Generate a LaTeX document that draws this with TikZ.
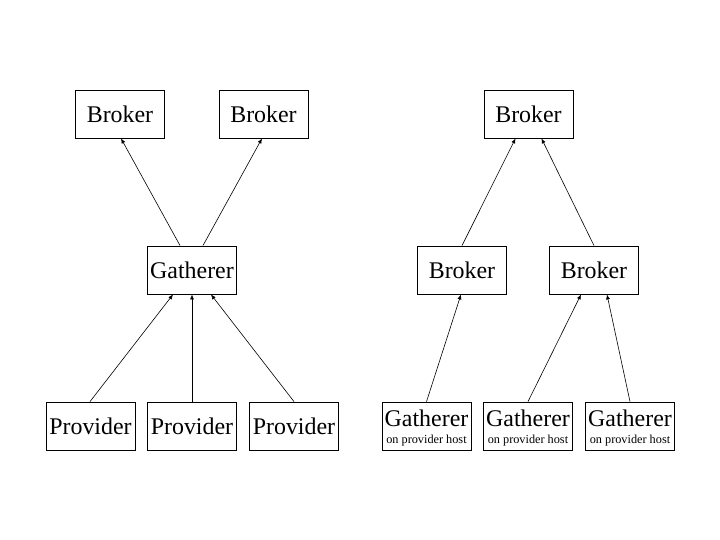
\documentclass[tikz,border=0pt]{standalone}
\usepackage{fontspec}
\setmainfont{Liberation Serif}
\usetikzlibrary{arrows.meta}
\newcommand{\gathtext}{\rule{0pt}{20.5bp}Gatherer\\{\fontsize{12.3}{17.5}\selectfont on provider host}}
\begin{document}
\begin{tikzpicture}[x=1bp,y=-1bp,
  box/.style={draw,line width=0.8bp,minimum width=89bp,minimum height=48bp,inner sep=0pt,
    font=\fontsize{24}{17}\selectfont,align=center},
  conn/.style={draw,line width=0.6bp,-{Latex[length=5bp,width=4bp]}}]
\useasboundingbox (0,0) rectangle (720,540);
% left tree
\node[box] (b1) at (120,114) {Broker};
\node[box] (b2) at (263.5,114) {Broker};
\node[box] (g) at (192,270) {Gatherer};
\node[box] (p1) at (90.5,426) {Provider};
\node[box] (p2) at (192,426) {Provider};
\node[box] (p3) at (294,426) {Provider};
% right tree
\node[box] (rb) at (528.5,114) {Broker};
\node[box] (rb1) at (462,270) {Broker};
\node[box] (rb2) at (594,270) {Broker};
\node[box] (rg1) at (426.5,426) {\gathtext};
\node[box] (rg2) at (528,426) {\gathtext};
\node[box] (rg3) at (630,426) {\gathtext};
% connectors left
\draw[conn] ([xshift=-12]g.north) -- ([xshift=1]b1.south);
\draw[conn] ([xshift=11]g.north) -- ([xshift=-1.5]b2.south);
\draw[conn] ([xshift=-0.5]p1.north) -- ([xshift=-19]g.south);
\draw[conn] (p2.north) -- (g.south);
\draw[conn] (p3.north) -- ([xshift=19]g.south);
% connectors right
\draw[conn] (rb1.north) -- ([xshift=-13]rb.south);
\draw[conn] (rb2.north) -- ([xshift=13]rb.south);
\draw[conn] (rg1.north) -- ([xshift=-1]rb1.south);
\draw[conn] (rg2.north) -- ([xshift=-13]rb2.south);
\draw[conn] (rg3.north) -- ([xshift=13]rb2.south);
\end{tikzpicture}
\end{document}
